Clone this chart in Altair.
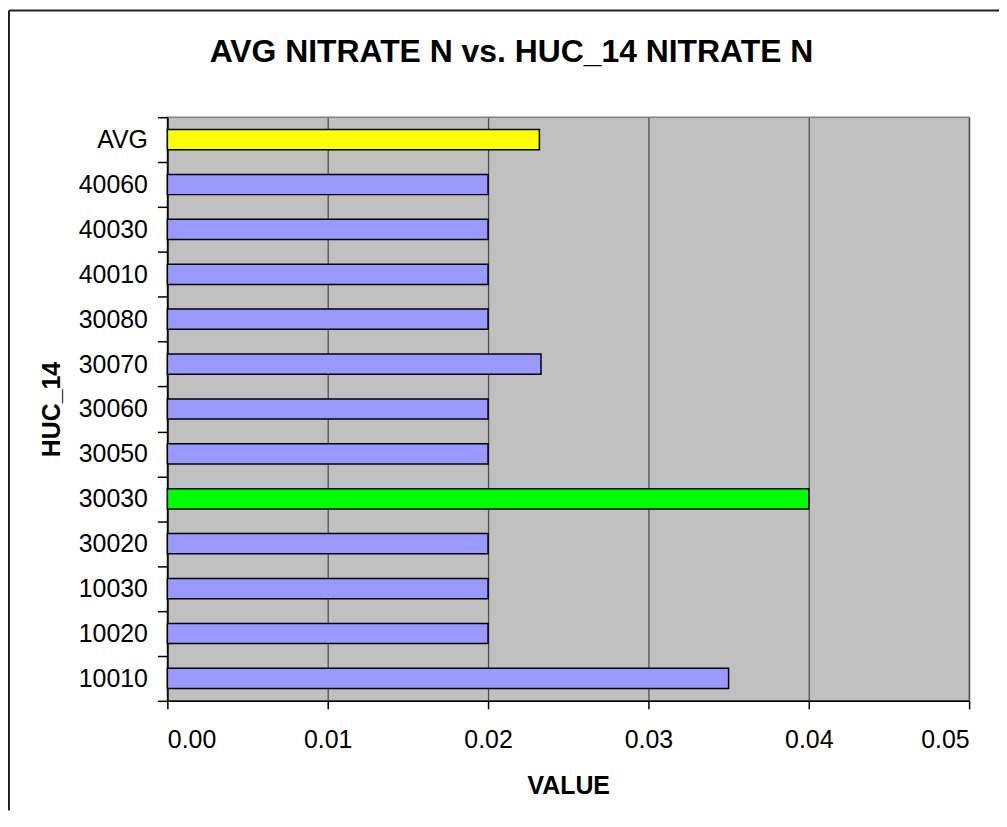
import altair as alt
import pandas as pd

# ---- data ----
categories = ["AVG", "40060", "40030", "40010", "30080", "30070", "30060",
              "30050", "30030", "30020", "10030", "10020", "10010"]
values = [0.0232, 0.020, 0.020, 0.020, 0.020, 0.0233, 0.020,
          0.020, 0.040, 0.020, 0.020, 0.020, 0.035]
groups = ["Average", "HUC", "HUC", "HUC", "HUC", "HUC", "HUC",
          "HUC", "Maximum", "HUC", "HUC", "HUC", "HUC"]
group_names = ["Average", "HUC", "Maximum"]
group_colors = ["#FFFF00", "#9999FF", "#00FF00"]
x_ticks = [0.0, 0.01, 0.02, 0.03, 0.04, 0.05]

df = pd.DataFrame({"HUC_14": categories, "VALUE": values, "group": groups})

W, H = 805, 586
FONT = "Liberation Sans"
PAD = {"left": 160, "top": 108, "right": 30, "bottom": 110}

bars = alt.Chart(df).mark_bar(
    stroke="black", strokeWidth=1.5, height=alt.RelativeBandSize(0.45)
).encode(
    x=alt.X(
        "VALUE:Q",
        scale=alt.Scale(domain=[0, 0.05], nice=False, zero=True),
        axis=alt.Axis(
            values=x_ticks, format=".2f", title="VALUE",
            grid=True, gridColor="#505050", gridWidth=1.3,
            tickColor="black", tickSize=8, tickWidth=1.5,
            domainColor="black", domainWidth=1.5,
            labelFont=FONT, labelFontSize=25, labelColor="black", labelPadding=19,
            titleFont=FONT, titleFontSize=25, titleFontWeight="bold", titleColor="black",
            titleX=W / 2, titleY=93, titleBaseline="alphabetic", titleAlign="center",
        ),
    ),
    y=alt.Y(
        "HUC_14:N", sort=categories,
        scale=alt.Scale(paddingInner=0, paddingOuter=0),
        axis=alt.Axis(
            title="HUC_14", tickBand="extent", grid=False,
            tickColor="black", tickSize=10, tickWidth=1.5,
            domainColor="black", domainWidth=1.5,
            labelFont=FONT, labelFontSize=25, labelColor="black", labelPadding=10,
            titleFont=FONT, titleFontSize=25, titleFontWeight="bold", titleColor="black",
            titleX=-108, titleY=H / 2, titleAngle=270, titleBaseline="alphabetic",
            titleAlign="center",
        ),
    ),
    color=alt.Color("group:N", scale=alt.Scale(domain=group_names, range=group_colors),
                    legend=None),
)

frame_df = pd.DataFrame({"k": [0]})
frame_left = alt.Chart(frame_df).mark_rule(color="#222222", strokeWidth=2).encode(
    x=alt.value(-159), y=alt.value(-107), y2=alt.value(H + PAD["bottom"])
)
frame_top = alt.Chart(frame_df).mark_rule(color="#222222", strokeWidth=2).encode(
    x=alt.value(-159), x2=alt.value(W + PAD["right"]), y=alt.value(-107)
)

chart = alt.layer(bars, frame_left, frame_top).properties(
    width=W, height=H,
    title=alt.TitleParams(
        "AVG NITRATE N vs. HUC_14 NITRATE N",
        font=FONT, fontSize=32, fontWeight="bold", color="black",
        anchor="middle", frame="group", dx=-57, offset=0, dy=85, baseline="alphabetic",
    ),
    autosize=alt.AutoSizeParams(type="none"),
    padding=PAD,
    background="white",
).configure_view(
    fill="#C0C0C0", stroke="#808080", strokeWidth=1.5
)

chart.save("out.html", embed_options={"renderer": "svg", "actions": False})
